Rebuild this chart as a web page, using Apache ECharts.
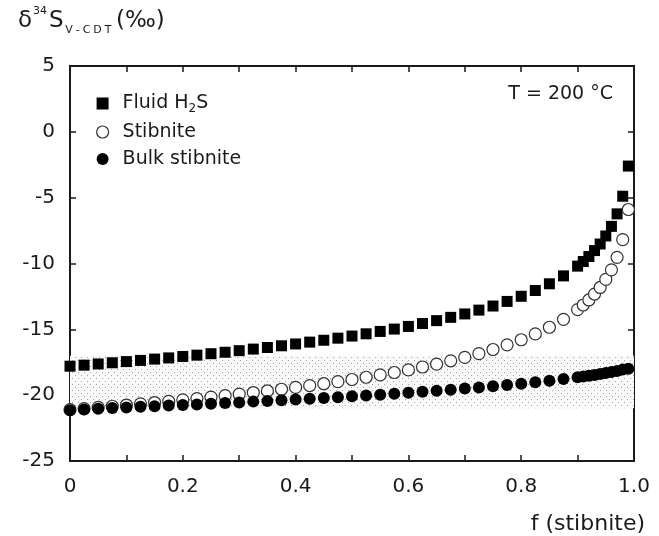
<!DOCTYPE html>
<html>
<head>
<meta charset="utf-8">
<script src="https://cdn.jsdelivr.net/npm/echarts@6/dist/echarts.min.js"></script>
<style>
html,body{margin:0;padding:0;background:#fff}
#chart{width:659px;height:536px}
</style>
</head>
<body>
<div id="chart"></div>
<script>
// fraction of stibnite precipitated
var fValues = [0, 0.025, 0.05, 0.075, 0.1, 0.125, 0.15, 0.175, 0.2, 0.225, 0.25, 0.275, 0.3, 0.325, 0.35, 0.375,
  0.4, 0.425, 0.45, 0.475, 0.5, 0.525, 0.55, 0.575, 0.6, 0.625, 0.65, 0.675, 0.7, 0.725, 0.75, 0.775,
  0.8, 0.825, 0.85, 0.875, 0.9, 0.91, 0.92, 0.93, 0.94, 0.95, 0.96, 0.97, 0.98, 0.99];

var fluidH2S = [-17.8, -17.72, -17.63, -17.54, -17.45, -17.36, -17.26, -17.17, -17.06, -16.96, -16.85, -16.74,
  -16.62, -16.5, -16.38, -16.25, -16.11, -15.97, -15.83, -15.67, -15.51, -15.34, -15.16, -14.98, -14.78,
  -14.56, -14.34, -14.09, -13.83, -13.54, -13.23, -12.88, -12.49, -12.05, -11.54, -10.94, -10.2,
  -9.85, -9.47, -9.02, -8.52, -7.91, -7.18, -6.23, -4.89, -2.6];

var stibnite = [-21.1, -21.02, -20.93, -20.84, -20.75, -20.66, -20.56, -20.47, -20.36, -20.26, -20.15, -20.04,
  -19.92, -19.8, -19.68, -19.55, -19.41, -19.27, -19.13, -18.97, -18.81, -18.64, -18.46, -18.28, -18.08,
  -17.86, -17.64, -17.39, -17.13, -16.84, -16.53, -16.18, -15.79, -15.35, -14.84, -14.24, -13.5,
  -13.15, -12.77, -12.32, -11.82, -11.21, -10.48, -9.53, -8.19, -5.9];

var bulkStibnite = [-21.15, -21.08, -21.03, -20.98, -20.93, -20.88, -20.84, -20.79, -20.75, -20.7, -20.65, -20.6,
  -20.55, -20.49, -20.44, -20.39, -20.33, -20.27, -20.21, -20.15, -20.09, -20.02, -19.96, -19.89, -19.82,
  -19.74, -19.67, -19.59, -19.5, -19.42, -19.32, -19.23, -19.13, -19.02, -18.9, -18.78, -18.64,
  -18.59, -18.52, -18.46, -18.39, -18.32, -18.24, -18.16, -18.06, -18.0];

// shaded range (measured stibnite)
var bandRange = [-21, -17];

var seriesNames = ['Fluid H2S', 'Stibnite', 'Bulk stibnite'];

function pairs(ys) {
  return fValues.map(function (f, i) { return [f, ys[i]]; });
}

// dotted fill for the band
var dots = document.createElement('canvas');
dots.width = 6; dots.height = 6;
var g = dots.getContext('2d');
g.fillStyle = '#f9f9f9';
g.fillRect(0, 0, 6, 6);
g.fillStyle = '#a4a4a4';
g.fillRect(0, 0, 1, 1);
g.fillRect(3, 3, 1, 1);

var FONT = 'DejaVu Sans';
var INK = '#1a1a1a';
var axisLine = {onZero: false, lineStyle: {color: INK, width: 2}};
var axisTick = {inside: true, length: 6, lineStyle: {color: INK, width: 1.5}};

var chart = echarts.init(document.getElementById('chart'));
var option = {
  animation: false,
  backgroundColor: '#fff',
  grid: {left: 70, right: 25, top: 66, bottom: 75},
  xAxis: [
    {
      type: 'value', min: 0, max: 1, interval: 0.1, position: 'bottom',
      axisLine: axisLine, axisTick: axisTick, splitLine: {show: false},
      axisLabel: {
        fontSize: 20, fontFamily: FONT, color: INK, margin: 16,
        formatter: function (v) {
          if (Math.round(v * 10) % 2) return '';
          return v === 0 ? '0' : v.toFixed(1);
        }
      }
    },
    {
      type: 'value', min: 0, max: 1, interval: 0.1, position: 'top',
      axisLine: axisLine, axisTick: axisTick, splitLine: {show: false},
      axisLabel: {show: false}
    }
  ],
  yAxis: [
    {
      type: 'value', min: -25, max: 5, interval: 5, position: 'left',
      axisLine: axisLine, axisTick: axisTick, splitLine: {show: false},
      axisLabel: {fontSize: 20, fontFamily: FONT, color: INK, margin: 15}
    },
    {
      type: 'value', min: -25, max: 5, interval: 5, position: 'right',
      axisLine: axisLine, axisTick: axisTick, splitLine: {show: false},
      axisLabel: {show: false}
    }
  ],
  legend: {
    orient: 'vertical',
    left: 91, top: 89,
    itemWidth: 30, itemHeight: 12, itemGap: 8,
    symbolKeepAspect: true,
    selectedMode: false,
    itemStyle: {borderWidth: 1.2, opacity: 1},
    data: [
      {name: seriesNames[0], icon: 'path://M0,0H10V10H0Z'},
      {name: seriesNames[1], icon: 'circle'},
      {name: seriesNames[2], icon: 'circle'}
    ],
    formatter: function (name) {
      if (name === 'Fluid H2S') return '{a|Fluid H}{b|2}{a|S}';
      return '{a|' + name + '}';
    },
    textStyle: {
      rich: {
        a: {fontSize: 19, lineHeight: 22, fontFamily: FONT, color: INK},
        b: {fontSize: 12, lineHeight: 14, fontFamily: FONT, color: INK, verticalAlign: 'bottom'}
      }
    }
  },
  graphic: [
    {
      type: 'text', left: 18, top: 6,
      style: {
        text: '{d|δ}{sup|34}{s|S}{sub|V}{sub|-}{sub|C}{sub|D}{sub|T}{p|(‰)}',
        fill: INK,
        rich: {
          d: {fontSize: 23, lineHeight: 30, fontFamily: FONT, color: INK},
          sup: {fontSize: 11, lineHeight: 12, fontFamily: FONT, color: INK, verticalAlign: 'top', padding: [0, 2, 0, 1]},
          s: {fontSize: 23, lineHeight: 30, fontFamily: FONT, color: INK},
          sub: {fontSize: 11, lineHeight: 12, fontFamily: FONT, color: INK, verticalAlign: 'bottom', padding: [0, 1.5, 0, 1.5]},
          p: {fontSize: 23, lineHeight: 30, fontFamily: FONT, color: INK, padding: [0, 0, 0, 3]}
        }
      }
    },
    {
      type: 'text', right: 46, top: 85,
      style: {text: 'T = 200 °C', font: '19px "DejaVu Sans"', fill: INK}
    },
    {
      type: 'text', right: 14, top: 513,
      style: {text: 'f (stibnite)', font: '22px "DejaVu Sans"', fill: INK}
    }
  ],
  series: [
    {
      name: seriesNames[0], type: 'scatter', symbol: 'rect', symbolSize: 11,
      itemStyle: {color: '#000', borderWidth: 0, opacity: 1},
      data: pairs(fluidH2S),
      markArea: {
        silent: true,
        itemStyle: {color: {image: dots, repeat: 'repeat'}, opacity: 1},
        data: [[{yAxis: bandRange[1]}, {yAxis: bandRange[0]}]]
      },
      z: 3
    },
    {
      name: seriesNames[1], type: 'scatter', symbol: 'circle', symbolSize: 12,
      itemStyle: {color: '#fff', borderColor: '#333', borderWidth: 1.2, opacity: 1},
      data: pairs(stibnite),
      z: 4
    },
    {
      name: seriesNames[2], type: 'scatter', symbol: 'circle', symbolSize: 12,
      itemStyle: {color: '#000', borderWidth: 0, opacity: 1},
      data: pairs(bulkStibnite),
      z: 5
    }
  ]
};
chart.setOption(option);
</script>
</body>
</html>
